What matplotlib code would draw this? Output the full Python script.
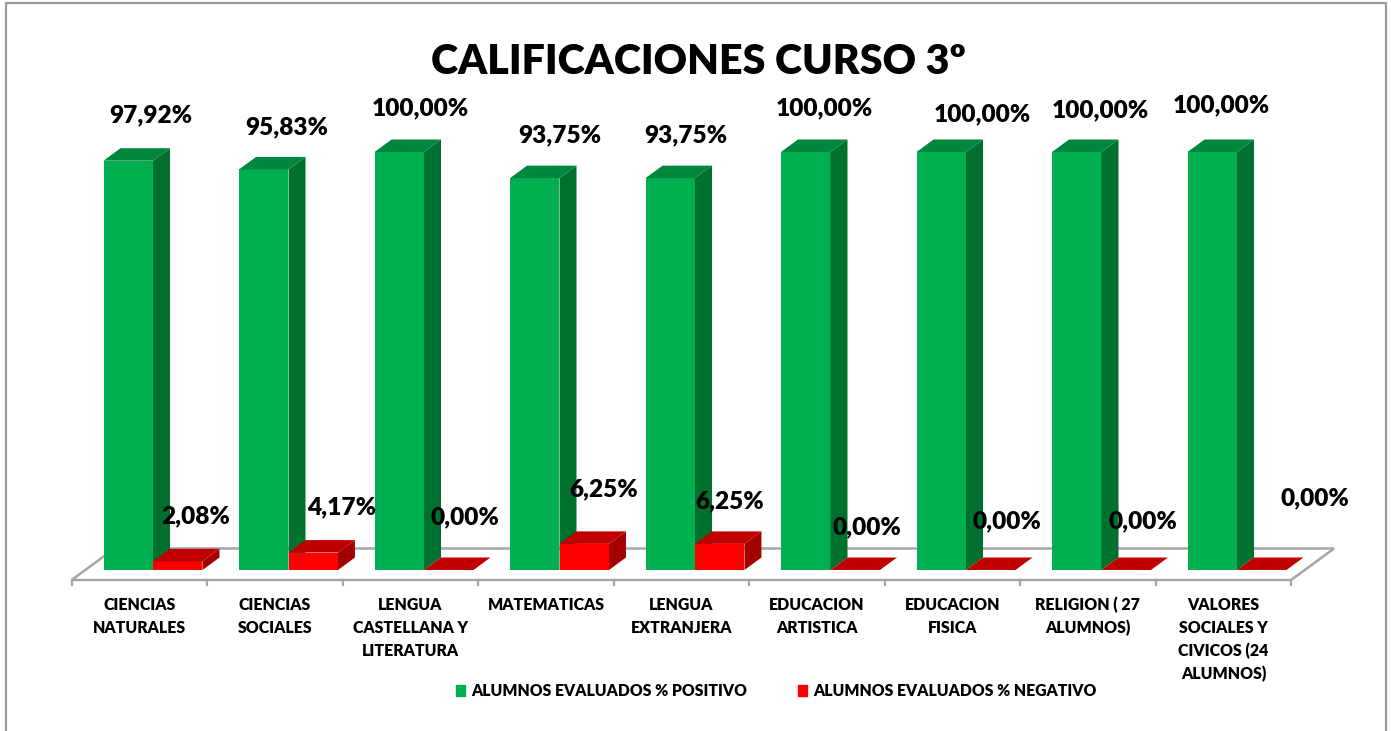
import matplotlib
matplotlib.use("Agg")
import matplotlib.pyplot as plt
from matplotlib.patches import Polygon, Rectangle, Patch

# ---------------- data ----------------
categories = ["CIENCIAS\nNATURALES", "CIENCIAS\nSOCIALES", "LENGUA\nCASTELLANA Y\nLITERATURA",
              "MATEMATICAS", "LENGUA\nEXTRANJERA", "EDUCACION\nARTISTICA", "EDUCACION\nFISICA",
              "RELIGION ( 27\nALUMNOS)", "VALORES\nSOCIALES Y\nCIVICOS (24\nALUMNOS)"]
positivo = [97.92, 95.83, 100.00, 93.75, 93.75, 100.00, 100.00, 100.00, 100.00]
negativo = [2.08, 4.17, 0.00, 6.25, 6.25, 0.00, 0.00, 0.00, 0.00]
series_names = ["ALUMNOS EVALUADOS % POSITIVO", "ALUMNOS EVALUADOS % NEGATIVO"]
title = "CALIFICACIONES CURSO 3º"

# ---------------- style ----------------
W, H = 1391, 731
PX_X = 135.5        # pixels per category
PX_Y = 4.18         # pixels per percent
X0_PX, Y0_PX = 153, 570
BW = 0.365
DDX, DDY = 0.1255, 2.99   # oblique depth vector (one bar depth)
FONT = "Lato"
WT = "heavy"
G_FRONT, G_SIDE, G_TOP = "#00B050", "#00702F", "#00873D"
R_FRONT, R_SIDE, R_TOP = "#FF0000", "#A50000", "#C00000"
GRID = "#A6A6A6"

# label offsets (pixels: right, up) relative to bar front-top centre
g_off = [(22.5, 46), (23, 43), (21.5, 45), (25, 44), (15.5, 44), (19, 45), (41.5, 39), (24, 43), (9.5, 48)]
r_off = [(17.5, 46), (28, 46), (16.5, 54), (19, 56), (9.5, 44), (12, 44), (16.5, 50), (17, 50), (53.5, 73)]

fig = plt.figure(figsize=(W / 100, H / 100), dpi=100)
ax = fig.add_axes([0, 0, 1, 1])
ax.set_xlim(-X0_PX / PX_X, (W - X0_PX) / PX_X)
ax.set_ylim((Y0_PX - H) / PX_Y, Y0_PX / PX_Y)
ax.axis("off")
renderer = fig.canvas.get_renderer()


def fit(s, target, weight=WT):
    t = fig.text(0, 0, s, fontsize=20, family=FONT, weight=weight)
    w = t.get_window_extent(renderer).width
    t.remove()
    return 20 * target / w


def P(x, y, d):
    return (x + d * DDX, y + d * DDY)


n = len(categories)
# floor
d_front, d_back = -0.8, 1.72
floor = [P(-0.5, 0, d_front), P(n - 0.5, 0, d_front), P(n - 0.5, 0, d_back), P(-0.5, 0, d_back)]
ax.add_patch(Polygon(floor, closed=True, facecolor="white", edgecolor=GRID, lw=1.8, zorder=1))
fx, fy = P(0, 0, d_front)
for k in range(n + 1):
    ax.plot([fx - 0.5 + k, fx - 0.5 + k], [fy, fy - 5 / PX_Y], color=GRID, lw=1.6, zorder=1)

z = 2


def box(x0, h, front, side, top):
    global z
    ax.bar(x0, h, width=BW, align="edge", color=front, linewidth=0, zorder=z)
    ax.add_patch(Polygon([P(x0 + BW, 0, 0), P(x0 + BW, 0, 1), P(x0 + BW, h, 1), P(x0 + BW, h, 0)],
                         closed=True, facecolor=side, edgecolor="none", zorder=z))
    ax.add_patch(Polygon([P(x0, h, 0), P(x0 + BW, h, 0), P(x0 + BW, h, 1), P(x0, h, 1)],
                         closed=True, facecolor=top, edgecolor="none", zorder=z))
    z += 1


for i in range(n):
    box(i - BW, positivo[i], G_FRONT, G_SIDE, G_TOP)
    box(i, negativo[i], R_FRONT, R_SIDE, R_TOP)

# data labels
fs_val = fit("97,92%", 83)
fmt = lambda v: f"{v:.2f}".replace(".", ",") + "%"
for i in range(n):
    dx, up = g_off[i]
    ax.annotate(fmt(positivo[i]), xy=(i - BW / 2, positivo[i]), xytext=(dx, up - 8),
                textcoords="offset pixels", ha="center", va="baseline",
                fontsize=fs_val, family=FONT, weight=WT, zorder=50)
    dx, up = r_off[i]
    ax.annotate(fmt(negativo[i]), xy=(i + BW / 2, negativo[i]), xytext=(dx, up - 8),
                textcoords="offset pixels", ha="center", va="baseline",
                fontsize=fs_val, family=FONT, weight=WT, zorder=50)

# category labels
fs_cat = fit("MATEMATICAS", 117)
for i, lab in enumerate(categories):
    for k, line in enumerate(lab.split("\n")):
        ax.annotate(line, xy=(fx + i, fy), xytext=(0, -(30 + 23 * k)),
                    textcoords="offset pixels", ha="center", va="baseline",
                    fontsize=fs_cat, family=FONT, weight=WT)

# title
fs_t = fit(title, 535)
fig.text(698 / W, 1 - 74 / H, title, ha="center", va="baseline", fontsize=fs_t,
         family=FONT, weight=WT)

# legend
fs_leg = fit(series_names[0], 276)
fs_px = fs_leg * 100 / 72
leg = fig.legend([Patch(color=G_FRONT), Patch(color=R_FRONT)], series_names,
                 loc="center", bbox_to_anchor=(776 / W, 1 - 691 / H), ncol=2, frameon=False,
                 prop={"family": FONT, "weight": WT, "size": fs_leg},
                 handlelength=9 / fs_px, handleheight=11 / fs_px, handletextpad=6 / fs_px,
                 columnspacing=51 / fs_px, borderpad=0)

# chart border
fig.add_artist(Rectangle((6 / W, -0.01), (1386 - 6) / W, 1.01 - 3 / H, transform=fig.transFigure,
                         fill=False, edgecolor="#9A9A9A", lw=1.6))

fig.savefig("out.png", dpi=100)
